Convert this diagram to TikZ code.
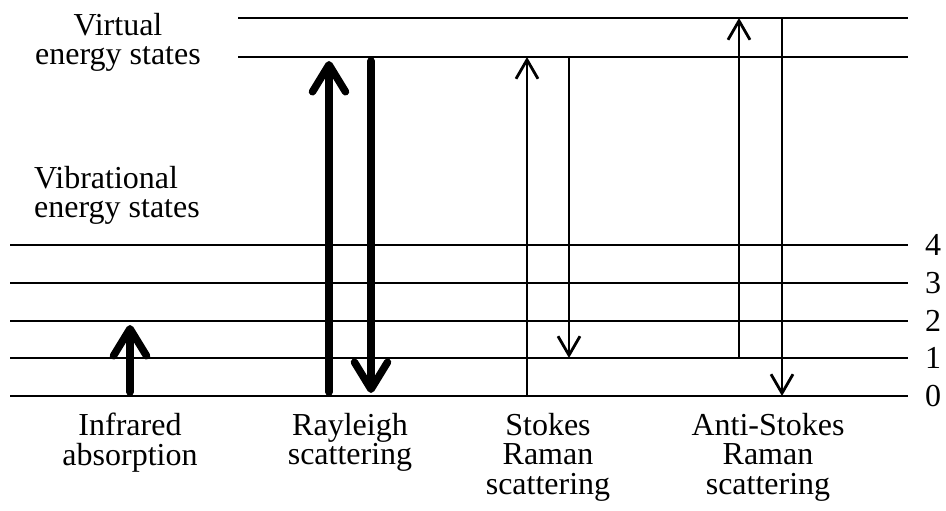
\documentclass[tikz,border=0pt]{standalone}
\usepackage{fontspec}
\setmainfont{Liberation Serif}
\usetikzlibrary{arrows.meta}
\newcommand{\toprule}{\rule{0pt}{22pt}}
\begin{document}
\begin{tikzpicture}[x=1pt,y=-1pt,
  level/.style={line width=2.4pt},
  lbl/.style={inner sep=0pt,font=\fontsize{32}{29.5}\selectfont},
  captext/.style={lbl,align=center,anchor=north},
  heavyarr/.style={line width=7.5pt,line cap=round,
    -{Straight Barb[length=27pt,width=33pt,line width=7.5pt,round]}},
  lightarr/.style={line width=2.8pt,
    -{Straight Barb[length=19pt,width=22pt,line width=2.8pt]}}]
\useasboundingbox (0,0) rectangle (946,511);

% vibrational levels 0..4 and their numbers
\foreach \n/\y in {0/396,1/358,2/321,3/283,4/245}{
  \coordinate (L\n) at (10,\y);
  \coordinate (R\n) at (908,\y);
  \draw[level] (L\n) -- (R\n);
  \node[lbl] (num\n) at (933,\y) {\n};
}
% virtual levels
\coordinate (VaL) at (238,57);  \coordinate (VaR) at (908,57);
\coordinate (VbL) at (238,18);  \coordinate (VbR) at (908,18);
\draw[level] (VaL) -- (VaR);
\draw[level] (VbL) -- (VbR);

% side labels
\node[captext] (virt) at (118,13) {\toprule Virtual\\energy states};
\node[lbl,align=left,anchor=north west] (vib) at (34,166) {\toprule Vibrational\\energy states};

% infrared absorption
\coordinate (ir0) at (130,392); \coordinate (ir1) at (130,325);
\draw[heavyarr] (ir0) -- (ir1);

% Rayleigh scattering
\coordinate (ry0) at (329,392); \coordinate (ry1) at (329,61);
\coordinate (rd0) at (371,61);  \coordinate (rd1) at (371,393);
\draw[heavyarr] (ry0) -- (ry1);
\draw[heavyarr] (rd0) -- (rd1);

% Stokes Raman scattering
\coordinate (su0) at (527,396); \coordinate (su1) at (527,57);
\coordinate (sd0) at (569,57);  \coordinate (sd1) at (569,358);
\draw[lightarr] (su0) -- (su1);
\draw[lightarr] (sd0) -- (sd1);

% anti-Stokes Raman scattering
\coordinate (au0) at (739,358); \coordinate (au1) at (739,18);
\coordinate (ad0) at (782,18);  \coordinate (ad1) at (782,396);
\draw[lightarr] (au0) -- (au1);
\draw[lightarr] (ad0) -- (ad1);

% captions
\node[captext] (c1) at (130,413) {\toprule Infrared\\absorption};
\node[captext] (c2) at (350,413) {\toprule Rayleigh\\scattering};
\node[captext] (c3) at (548,413) {\toprule Stokes\\Raman\\scattering};
\node[captext] (c4) at (768,413) {\toprule Anti-Stokes\\Raman\\scattering};
\end{tikzpicture}
\end{document}
